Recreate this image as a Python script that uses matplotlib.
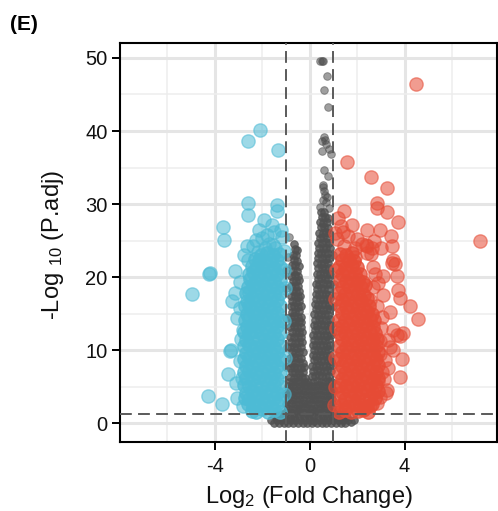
import matplotlib
matplotlib.use("Agg")
import matplotlib.pyplot as plt
import numpy as np

plt.rcParams['font.family'] = ['Liberation Sans', 'DejaVu Sans']
plt.rcParams['axes.unicode_minus'] = False
plt.rcParams['mathtext.fontset'] = 'custom'
plt.rcParams['mathtext.rm'] = 'Liberation Sans'
plt.rcParams['mathtext.it'] = 'Liberation Sans:italic'
plt.rcParams['lines.scale_dashes'] = False

# ---------------- data ----------------
fc_cut = 1.0
p_cut = 0.05

x_ticks = [-4, 0, 4]
y_ticks = [0, 10, 20, 30, 40, 50]

# down-regulated (blue) dense core
blue_core_x = [
    -1.24, -1.5, -1.77, -2.02, -2.28, -2.45,
    -1.36, -1.63, -1.88, -2.14, -2.4, -2.6,
    -1.25, -1.52, -1.76, -2.03, -2.29, -2.55, -2.72,
    -1.38, -1.64, -1.9, -2.16, -2.42, -2.68,
    -1.26, -1.51, -1.78, -2.04, -2.3, -2.55, -2.76,
    -1.37, -1.63, -1.9, -2.15, -2.41, -2.68,
    -1.24, -1.5, -1.77, -2.03, -2.28, -2.54, -2.77,
    -1.38, -1.64, -1.89, -2.16, -2.42, -2.67,
    -1.25, -1.52, -1.77, -2.02, -2.29, -2.55, -2.78,
    -1.37, -1.63, -1.9, -2.16, -2.41, -2.68,
    -1.26, -1.51, -1.78, -2.03, -2.3, -2.56, -2.76,
    -1.38, -1.64, -1.9, -2.15, -2.42, -2.67,
    -1.24, -1.5, -1.77, -2.04, -2.29, -2.55, -2.75,
    -1.37, -1.63, -1.89, -2.16, -2.42, -2.66,
    -1.25, -1.51, -1.78, -2.03, -2.3, -2.55, -2.74,
    -1.38, -1.64, -1.9, -2.16, -2.41, -2.65,
    -1.26, -1.52, -1.77, -2.04, -2.29, -2.55, -2.72,
    -1.37, -1.63, -1.89, -2.15, -2.42, -2.64,
    -1.24, -1.5, -1.78, -2.03, -2.3, -2.54, -2.7,
    -1.38, -1.64, -1.9, -2.16, -2.4, -2.6,
    -1.25, -1.52, -1.77, -2.04, -2.3, -2.52,
    -1.37, -1.63, -1.9, -2.15, -2.4, -2.58,
    -1.26, -1.52, -1.78, -2.03, -2.28, -2.45,
    -1.36, -1.62, -1.88, -2.12, -2.3,
    -1.28, -1.55, -1.8, -2.05,
]
blue_core_y = [
    1.5, 1.8, 1.6, 1.9, 1.5, 1.7,
    2.6, 2.4, 2.7, 2.5, 2.3, 2.6,
    3.3, 3.5, 3.2, 3.4, 3.6, 3.3, 3.5,
    4.2, 4.4, 4.3, 4.1, 4.4, 4.2,
    5.1, 5.3, 5.2, 5.0, 5.3, 5.1, 5.3,
    6.0, 6.2, 6.1, 6.3, 6.0, 6.2,
    7.0, 6.9, 7.2, 7.0, 6.9, 7.1, 7.0,
    7.9, 8.0, 7.8, 8.1, 7.9, 7.8,
    8.8, 8.7, 8.9, 8.8, 8.6, 8.9, 8.8,
    9.7, 9.6, 9.8, 9.7, 9.9, 9.6,
    10.6, 10.5, 10.7, 10.6, 10.4, 10.7, 10.6,
    11.5, 11.6, 11.4, 11.5, 11.7, 11.4,
    12.4, 12.3, 12.5, 12.4, 12.6, 12.3, 12.5,
    13.3, 13.4, 13.2, 13.3, 13.5, 13.2,
    14.2, 14.1, 14.3, 14.2, 14.0, 14.3, 14.2,
    15.1, 15.2, 15.0, 15.1, 15.3, 15.0,
    16.0, 15.9, 16.1, 16.0, 15.8, 16.1, 16.0,
    16.9, 17.0, 16.8, 16.9, 17.1, 16.8,
    17.8, 17.7, 17.9, 17.8, 17.6, 17.9, 17.8,
    18.7, 18.8, 18.6, 18.7, 18.9, 18.6,
    19.6, 19.5, 19.7, 19.6, 19.4, 19.7,
    20.5, 20.6, 20.4, 20.5, 20.7, 20.4,
    21.4, 21.3, 21.5, 21.4, 21.2, 21.5,
    22.3, 22.4, 22.2, 22.3, 22.5,
    23.2, 23.1, 23.3, 23.0,
]
# down-regulated (blue) scattered points
blue_out_x = [
    -2.09, -2.59, -1.32, -2.59, -2.59, -3.67, -3.6, -1.37, -1.39, -1.92,
    -2.13, -1.6, -1.54, -2.38, -2.77, -1.22, -1.17, -2.28, -1.72, -2.66,
    -1.5, -1.8, -2.0,
    -4.24, -4.2, -4.98, -3.15, -2.94, -3.15, -3.29, -3.08, -2.83, -3.36,
    -3.3, -3.43, -3.11, -4.28, -3.71, -3.05, -2.8, -2.95, -2.9, -2.92,
    -2.85, -2.6, -2.2, -1.9, -1.45, -1.1, -1.08, -1.06, -1.1, -1.05, -1.08,
]
blue_out_y = [
    40.1, 38.6, 37.4, 30.1, 28.5, 26.8, 25.1, 29.9, 29.1, 27.8,
    26.4, 27.2, 24.4, 24.2, 23.0, 26.5, 25.5, 25.1, 24.6, 24.2,
    26.2, 25.8, 25.4,
    20.4, 20.6, 17.65, 20.9, 19.4, 17.8, 16.8, 14.4, 12.8, 9.9,
    10.0, 6.8, 5.5, 3.8, 2.7, 3.4, 2.3, 8.5, 11.5, 15.8,
    6.2, 22.3, 23.5, 24.0, 24.0, 23.6, 4.0, 9.0, 14.0, 18.5, 21.0,
]

# up-regulated (red) dense core
red_core_x = [
    1.24, 1.5, 1.76, 2.02, 2.27, 2.45,
    1.37, 1.63, 1.89, 2.14, 2.4, 2.62,
    1.25, 1.51, 1.77, 2.03, 2.28, 2.54, 2.76,
    1.38, 1.64, 1.9, 2.15, 2.41, 2.67, 2.86,
    1.26, 1.52, 1.77, 2.03, 2.29, 2.55, 2.8,
    1.37, 1.63, 1.89, 2.16, 2.41, 2.67, 2.88,
    1.25, 1.5, 1.77, 2.02, 2.28, 2.54, 2.8,
    1.38, 1.64, 1.9, 2.15, 2.42, 2.68, 2.88,
    1.26, 1.51, 1.78, 2.03, 2.29, 2.55, 2.8,
    1.37, 1.63, 1.9, 2.16, 2.41, 2.67, 2.86,
    1.25, 1.52, 1.77, 2.04, 2.29, 2.55, 2.78,
    1.38, 1.63, 1.89, 2.15, 2.42, 2.66, 2.82,
    1.26, 1.51, 1.78, 2.03, 2.28, 2.53, 2.74,
    1.37, 1.64, 1.9, 2.16, 2.41, 2.66,
    1.25, 1.51, 1.77, 2.03, 2.29, 2.54, 2.7,
    1.38, 1.63, 1.89, 2.15, 2.4, 2.62,
    1.26, 1.52, 1.78, 2.03, 2.28, 2.5,
    1.37, 1.63, 1.9, 2.15, 2.42,
    1.25, 1.51, 1.77, 2.03, 2.3,
    1.38, 1.64, 1.9, 2.16, 2.35,
    1.26, 1.52, 1.78, 2.04, 2.25,
    1.37, 1.63, 1.9, 2.12,
    1.25, 1.51, 1.77, 1.98,
    1.38, 1.64, 1.88,
    1.28, 1.55, 1.8,
]
red_core_y = [
    1.6, 1.8, 1.5, 1.7, 1.9, 1.6,
    2.5, 2.4, 2.6, 2.5, 2.3, 2.6,
    3.4, 3.3, 3.5, 3.4, 3.2, 3.5, 3.4,
    4.3, 4.4, 4.2, 4.3, 4.5, 4.2, 4.4,
    5.2, 5.1, 5.3, 5.2, 5.0, 5.3, 5.2,
    6.1, 6.2, 6.0, 6.1, 6.3, 6.0, 6.2,
    7.0, 6.9, 7.1, 7.0, 6.8, 7.1, 7.0,
    7.9, 8.0, 7.8, 7.9, 8.1, 7.8, 8.0,
    8.8, 8.7, 8.9, 8.8, 8.6, 8.9, 8.8,
    9.7, 9.8, 9.6, 9.7, 9.9, 9.6, 9.8,
    10.6, 10.5, 10.7, 10.6, 10.4, 10.7, 10.6,
    11.5, 11.6, 11.4, 11.5, 11.7, 11.4, 11.6,
    12.4, 12.3, 12.5, 12.4, 12.2, 12.5, 12.4,
    13.3, 13.4, 13.2, 13.3, 13.5, 13.2,
    14.2, 14.1, 14.3, 14.2, 14.0, 14.3, 14.2,
    15.1, 15.2, 15.0, 15.1, 15.3, 15.0,
    16.0, 15.9, 16.1, 16.0, 15.8, 16.1,
    16.9, 17.0, 16.8, 16.9, 17.1,
    17.8, 17.7, 17.9, 17.8, 17.6,
    18.7, 18.8, 18.6, 18.7, 18.9,
    19.6, 19.5, 19.7, 19.6, 19.4,
    20.5, 20.6, 20.4, 20.5,
    21.4, 21.3, 21.5, 21.4,
    22.3, 22.4, 22.2,
    23.2, 23.1, 23.3,
]
# up-regulated (red) scattered points
red_out_x = [
    3.74, 3.81, 4.23, 4.58, 3.39, 3.92, 3.88, 3.81, 3.46, 3.6,
    3.22, 2.68, 2.4, 1.91, 2.9, 3.1, 2.54, 3.53, 3.67, 3.32,
    3.53, 3.18, 3.25, 2.97, 2.54, 2.26, 3.53, 3.81, 3.39, 3.04,
    2.83, 2.68, 3.1, 2.75, 3.67,
    1.59, 2.59, 3.25, 2.83, 2.85, 3.25, 3.74, 1.46, 1.21, 1.77,
    2.43, 2.97, 3.42, 3.46, 2.43, 7.2, 4.47, 1.05, 1.3, 1.15,
    1.6, 2.0, 2.2, 2.7, 3.0, 1.9, 2.6, 1.4, 2.36, 2.63, 1.45,
    1.08, 1.05, 1.1, 1.06, 1.1, 1.04, 3.0, 2.95, 3.05, 2.9,
    2.95, 2.85, 3.15, 3.3,
]
red_out_y = [
    18.3, 17.1, 16.05, 14.3, 15.3, 12.3, 8.76, 6.4, 21.9, 21.8,
    4.1, 21.4, 23.3, 22.8, 19.2, 17.6, 16.9, 12.8, 12.1, 11.4,
    10.0, 8.7, 4.6, 3.6, 2.3, 1.8, 22.3, 11.9, 10.5, 14.6,
    16.0, 18.7, 20.1, 20.5, 20.1,
    35.7, 33.7, 32.2, 30.1, 29.5, 28.9, 27.5, 29.0, 28.1, 27.1,
    26.5, 26.5, 25.6, 24.3, 24.3, 24.9, 46.4, 26.0, 27.0, 25.2,
    25.6, 25.2, 24.5, 25.0, 24.0, 24.0, 23.2, 26.2, 24.4, 24.0, 24.2,
    5.0, 9.0, 13.0, 17.0, 21.0, 2.5, 13.0, 9.5, 7.0, 5.8,
    11.2, 2.8, 6.0, 7.5,
]

# not significant (grey): base of the V
grey_base_x = [
    -1.5, -1.3, -1.1, -0.9, -0.7, -0.5, -0.3, -0.1, 0.1, 0.3, 0.5, 0.7, 0.9, 1.1, 1.3, 1.5, 1.75,
    -1.65, -1.4, -1.2, -1.0, -0.8, -0.6, -0.4, -0.2, 0.0, 0.2, 0.4, 0.6, 0.8, 1.0, 1.2, 1.4, 1.62, 1.88,
    -1.48, -1.25, -1.05, -0.85, -0.65, -0.45, -0.25, -0.05, 0.15, 0.35, 0.55, 0.75, 0.95, 1.15, 1.35, 1.58,
    -1.35, -1.15, 1.25, 1.45,
    -1.0, -0.83, -0.66, -0.49, -0.32, -0.15, 0.02, 0.19, 0.36, 0.53, 0.7, 0.87, 1.0,
    -0.92, -0.75, -0.58, -0.41, -0.24, -0.07, 0.1, 0.27, 0.44, 0.61, 0.78, 0.94,
    -0.98, -0.8, -0.63, -0.46, -0.29, -0.12, 0.05, 0.22, 0.39, 0.56, 0.73, 0.9,
    -0.9, -0.73, -0.56, -0.39, -0.22, -0.05, 0.12, 0.29, 0.46, 0.63, 0.8, 0.96,
    -0.95, -0.78, -0.61, -0.44, -0.27, -0.1, 0.07, 0.24, 0.41, 0.58, 0.75, 0.91,
    -0.88, -0.71, -0.54, -0.37, -0.2, -0.04, 0.14, 0.31, 0.48, 0.65, 0.82, 0.97,
    -0.93, -0.76, -0.59, -0.42, -0.26, -0.1, 0.05, 0.21, 0.38, 0.55, 0.72, 0.89,
    -0.86, -0.69, -0.52, -0.36, -0.2, -0.06, 0.12, 0.29, 0.46, 0.63, 0.8, 0.94,
]
grey_base_y = [
    0.05, 0.0, 0.1, 0.02, 0.08, 0.01, 0.04, 0.0, 0.06, 0.03, 0.02, 0.1, 0.0, 0.05, 0.01, 0.08, 0.12,
    0.5, 0.4, 0.45, 0.5, 0.42, 0.48, 0.4, 0.5, 0.45, 0.38, 0.5, 0.44, 0.4, 0.5, 0.46, 0.42, 0.5, 0.45,
    0.95, 0.85, 0.9, 0.92, 0.88, 0.95, 0.86, 0.9, 0.94, 0.88, 0.9, 0.85, 0.93, 0.9, 0.96, 0.88,
    1.2, 1.25, 1.22, 1.18,
    1.5, 1.55, 1.45, 1.6, 1.5, 1.42, 1.55, 1.48, 1.6, 1.5, 1.44, 1.58, 1.5,
    2.1, 2.0, 2.15, 2.05, 2.2, 2.1, 2.0, 2.12, 2.08, 2.18, 2.02, 2.1,
    2.7, 2.75, 2.65, 2.7, 2.8, 2.68, 2.72, 2.66, 2.78, 2.7, 2.64, 2.74,
    3.3, 3.25, 3.35, 3.3, 3.2, 3.32, 3.28, 3.36, 3.3, 3.22, 3.34, 3.3,
    3.9, 3.95, 3.85, 3.9, 4.0, 3.88, 3.92, 3.86, 3.98, 3.9, 3.84, 3.94,
    4.5, 4.45, 4.55, 4.5, 4.4, 4.52, 4.48, 4.56, 4.5, 4.42, 4.54, 4.5,
    5.1, 5.15, 5.05, 5.1, 5.2, 5.08, 5.12, 5.06, 5.18, 5.1, 5.04, 5.14,
    5.7, 5.65, 5.75, 5.7, 5.6, 5.72, 5.68, 5.76, 5.7, 5.62, 5.74, 5.7,
]
# grey: left arm of the V
grey_left_x = [
    -0.82, -0.66, -0.5, -0.34, -0.2,
    -0.75, -0.6, -0.44, -0.28,
    -0.84, -0.68, -0.52, -0.36, -0.22,
    -0.77, -0.61, -0.45, -0.3,
    -0.83, -0.67, -0.51, -0.36,
    -0.76, -0.6, -0.44, -0.3,
    -0.84, -0.68, -0.52, -0.37,
    -0.77, -0.61, -0.46, -0.33,
    -0.82, -0.66, -0.5, -0.36,
    -0.75, -0.59, -0.44, -0.34,
    -0.83, -0.67, -0.52, -0.38,
    -0.76, -0.6, -0.45, -0.35,
    -0.82, -0.66, -0.51, -0.38,
    -0.75, -0.6, -0.46,
    -0.8, -0.65, -0.5, -0.38,
    -0.73, -0.58, -0.45,
    -0.8, -0.64, -0.49, -0.4,
    -0.72, -0.57, -0.45,
    -0.78, -0.63, -0.5,
    -0.7, -0.56, -0.44,
    -0.77, -0.62, -0.48,
    -0.69, -0.55,
    -0.74, -0.6, -0.47,
    -0.66, -0.53,
    -0.7, -0.57,
    -0.63, -0.52,
    -0.66,
]
grey_left_y = [
    6.3, 6.25, 6.35, 6.3, 6.2,
    7.0, 7.05, 6.95, 7.0,
    7.6, 7.65, 7.55, 7.6, 7.7,
    8.3, 8.25, 8.35, 8.3,
    9.0, 9.05, 8.95, 9.0,
    9.7, 9.65, 9.75, 9.7,
    10.4, 10.45, 10.35, 10.4,
    11.1, 11.05, 11.15, 11.1,
    11.8, 11.85, 11.75, 11.8,
    12.5, 12.45, 12.55, 12.5,
    13.2, 13.25, 13.15, 13.2,
    13.9, 13.85, 13.95, 13.9,
    14.6, 14.65, 14.55, 14.6,
    15.3, 15.25, 15.35,
    16.0, 16.05, 15.95, 16.0,
    16.7, 16.65, 16.75,
    17.4, 17.45, 17.35, 17.4,
    18.1, 18.05, 18.15,
    18.8, 18.85, 18.75,
    19.5, 19.45, 19.55,
    20.2, 20.25, 20.15,
    20.9, 20.85,
    21.6, 21.65, 21.55,
    22.3, 22.25,
    23.0, 23.05,
    23.8, 23.75,
    24.6,
]
# grey: right arm of the V
grey_right_x = [
    0.08, 0.23, 0.38, 0.53, 0.68, 0.83,
    0.15, 0.3, 0.45, 0.6, 0.75, 0.88,
    0.1, 0.25, 0.4, 0.55, 0.7, 0.84,
    0.17, 0.32, 0.47, 0.62, 0.77, 0.9,
    0.12, 0.27, 0.42, 0.57, 0.72, 0.85,
    0.18, 0.33, 0.48, 0.63, 0.78,
    0.13, 0.28, 0.43, 0.58, 0.73, 0.87,
    0.2, 0.35, 0.5, 0.65, 0.8,
    0.16, 0.3, 0.45, 0.6, 0.75, 0.88,
    0.22, 0.37, 0.52, 0.67, 0.82,
    0.18, 0.32, 0.47, 0.62, 0.77, 0.9,
    0.24, 0.39, 0.54, 0.69, 0.84,
    0.2, 0.34, 0.49, 0.64, 0.79,
    0.26, 0.41, 0.56, 0.71, 0.86,
    0.22, 0.36, 0.51, 0.66, 0.81,
    0.28, 0.43, 0.58, 0.73, 0.87,
    0.25, 0.39, 0.54, 0.69, 0.83,
    0.31, 0.46, 0.61, 0.76,
    0.27, 0.41, 0.56, 0.71, 0.85,
    0.33, 0.48, 0.63, 0.78,
    0.3, 0.44, 0.59, 0.74, 0.86,
    0.35, 0.5, 0.65, 0.8,
    0.32, 0.46, 0.61, 0.76,
    0.37, 0.52, 0.67, 0.82,
    0.34, 0.49, 0.64, 0.78,
    0.4, 0.55, 0.7, 0.84,
    0.37, 0.52, 0.67, 0.8,
    0.43, 0.58, 0.73,
    0.4, 0.55, 0.7, 0.82,
    0.46, 0.61, 0.76,
    0.44, 0.58, 0.72,
    0.5, 0.65, 0.78,
    0.48, 0.62,
]
grey_right_y = [
    6.5, 6.45, 6.55, 6.5, 6.4, 6.52,
    7.2, 7.25, 7.15, 7.2, 7.3, 7.18,
    7.9, 7.85, 7.95, 7.9, 7.8, 7.92,
    8.6, 8.65, 8.55, 8.6, 8.7, 8.58,
    9.3, 9.25, 9.35, 9.3, 9.2, 9.32,
    10.0, 10.05, 9.95, 10.0, 10.1,
    10.7, 10.65, 10.75, 10.7, 10.6, 10.72,
    11.4, 11.45, 11.35, 11.4, 11.5,
    12.1, 12.05, 12.15, 12.1, 12.0, 12.12,
    12.8, 12.85, 12.75, 12.8, 12.9,
    13.5, 13.45, 13.55, 13.5, 13.4, 13.52,
    14.2, 14.25, 14.15, 14.2, 14.3,
    14.9, 14.85, 14.95, 14.9, 14.8,
    15.6, 15.65, 15.55, 15.6, 15.7,
    16.3, 16.25, 16.35, 16.3, 16.2,
    17.0, 17.05, 16.95, 17.0, 17.1,
    17.7, 17.65, 17.75, 17.7, 17.6,
    18.4, 18.45, 18.35, 18.4,
    19.1, 19.05, 19.15, 19.1, 19.0,
    19.8, 19.85, 19.75, 19.8,
    20.5, 20.45, 20.55, 20.5, 20.4,
    21.2, 21.25, 21.15, 21.2,
    21.9, 21.85, 21.95, 21.9,
    22.6, 22.65, 22.55, 22.6,
    23.3, 23.25, 23.35, 23.3,
    24.0, 24.05, 23.95, 24.0,
    24.7, 24.65, 24.75, 24.7,
    25.4, 25.45, 25.35,
    26.1, 26.05, 26.15, 26.1,
    26.8, 26.85, 26.75,
    27.5, 27.45, 27.55,
    28.2, 28.25, 28.15,
    28.9, 28.85,
]
# grey: isolated points
grey_out_x = [
    0.43, 0.5, 0.57, 0.72, 0.62, 0.78, 0.5, 0.62, 0.7, 0.66,
    0.52, 0.8, 0.88, 0.6, 0.78, 0.58, 0.55, 0.6, 0.65, 0.72,
    0.58, 0.68, 0.45, 0.82, -0.87, -0.9, -0.98, -1.0, -0.97, -1.02,
    -0.99, -1.0, 0.98, 1.0, 0.97, 1.02, 0.99, 1.0,
]
grey_out_y = [
    49.6, 49.6, 49.6, 47.5, 45.6, 43.3, 38.6, 39.2, 38.2, 38.8,
    37.2, 37.6, 36.8, 34.7, 33.8, 32.4, 32.6, 31.8, 31.3, 31.0,
    30.6, 30.3, 29.6, 29.5, 25.5, 22.8, 18.5, 14.4, 10.4, 7.7,
    4.1, 21.0, 8.0, 12.5, 16.0, 19.0, 23.0, 4.5,
]

grey_core_x = grey_base_x + grey_left_x + grey_right_x
grey_core_y = grey_base_y + grey_left_y + grey_right_y

# ---------------- styling ----------------
C_BLUE = '#4DBBD5'
C_RED = '#E64B35'
C_GREY = '#505050'
C_LINE = '#5A5A5A'

fig = plt.figure(figsize=(4.98, 5.11), dpi=100)
ax = fig.add_axes([0.241, 0.1356, 0.757, 0.7803])

# dense cores stand for many overlapping genes -> stronger opacity
ax.scatter(grey_core_x, grey_core_y, s=30, c=C_GREY, alpha=0.8, edgecolors=C_GREY,
           linewidths=0.7, zorder=3)
ax.scatter(grey_out_x, grey_out_y, s=30, c=C_GREY, alpha=0.55, edgecolors=C_GREY,
           linewidths=0.7, zorder=3)
ax.scatter(blue_core_x, blue_core_y, s=92, c=C_BLUE, alpha=0.75, edgecolors=C_BLUE,
           linewidths=1.0, zorder=4)
ax.scatter(blue_out_x, blue_out_y, s=92, c=C_BLUE, alpha=0.55, edgecolors=C_BLUE,
           linewidths=1.0, zorder=4)
ax.scatter(red_core_x, red_core_y, s=92, c=C_RED, alpha=0.75, edgecolors=C_RED,
           linewidths=1.0, zorder=4)
ax.scatter(red_out_x, red_out_y, s=92, c=C_RED, alpha=0.55, edgecolors=C_RED,
           linewidths=1.0, zorder=4)

dash = (0, (8.5, 4.5))
ax.axvline(-fc_cut, color=C_LINE, lw=1.4, linestyle=dash, zorder=5)
ax.axvline(fc_cut, color=C_LINE, lw=1.4, linestyle=dash, zorder=5)
ax.axhline(-np.log10(p_cut), color=C_LINE, lw=1.4, linestyle=dash, zorder=5)

ax.set_xlim(-8.0, 7.9)
ax.set_ylim(-2.52, 52.05)
ax.set_xticks(x_ticks)
ax.set_xticklabels([str(v) for v in x_ticks])
ax.set_yticks(y_ticks)
ax.set_yticklabels([str(v) for v in y_ticks])
ax.set_xticks([-6, -2, 2, 6], minor=True)
ax.set_yticks([5, 15, 25, 35, 45], minor=True)

ax.set_axisbelow(True)
ax.grid(which='major', color='#E5E5E5', linewidth=2.2, zorder=0)
ax.grid(which='minor', color='#EDEDED', linewidth=1.1, zorder=0)

for sp in ax.spines.values():
    sp.set_linewidth(1.5)
    sp.set_color('black')

ax.tick_params(axis='both', which='major', direction='out', length=6, width=1.4,
               color='black', labelsize=14.5, labelcolor='#111111')
ax.tick_params(axis='x', which='major', pad=5)
ax.tick_params(axis='y', which='major', pad=3)
ax.tick_params(which='minor', length=0)

ax.set_xlabel(r'Log$\mathregular{_2}$ (Fold Change)', fontsize=17, labelpad=6, color='#111111')
ax.set_ylabel(r'-Log $\mathregular{_{10}}$ (P.adj)', fontsize=17, color='#111111')
ax.yaxis.set_label_coords(-0.143, 0.493)

fig.text(0.02, 0.953, '(E)', fontsize=15, fontweight='bold', ha='left', va='center')

fig.savefig('out.png', dpi=100)
